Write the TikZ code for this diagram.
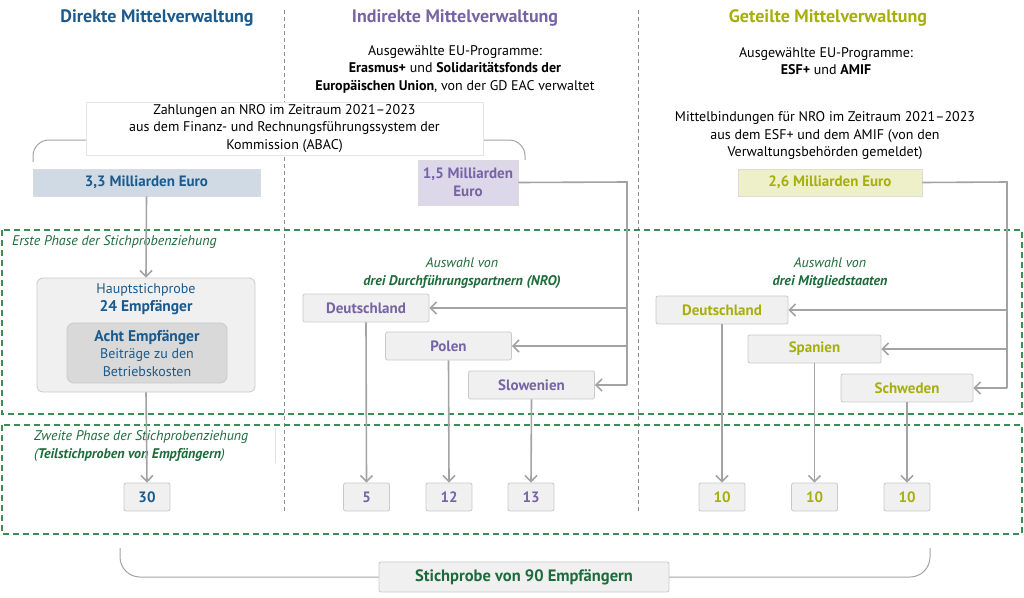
\documentclass[tikz,border=0pt]{standalone}
\usepackage{fontspec}
\setmainfont{PT Sans}
\usetikzlibrary{arrows.meta}
\definecolor{dblue}{HTML}{1B5A8C}
\definecolor{dpurple}{HTML}{7664A4}
\definecolor{dolive}{HTML}{A6AF0C}
\definecolor{dgreen}{HTML}{1D6B3A}
\definecolor{gdash}{HTML}{3C8C55}
\definecolor{lgray}{HTML}{A3A3A3}
\definecolor{bgray}{HTML}{C9C9C9}
\definecolor{bfill}{HTML}{F0F0F0}
\definecolor{ifill}{HTML}{D9D9D9}
\definecolor{fblue}{HTML}{CFDAE5}
\definecolor{fpurple}{HTML}{DCD7E9}
\definecolor{folive}{HTML}{EEF0C9}
\newcommand{\bigbf}[1]{{\fontsize{15.5}{17.5}\selectfont\bfseries #1}}
\begin{document}
\begin{tikzpicture}[x=1pt,y=-1pt,
  every node/.style={font=\fontsize{14}{17.5}\selectfont, inner sep=0pt},
  title/.style={font=\fontsize{18}{20}\selectfont\bfseries},
  bf/.style={font=\fontsize{15}{17.5}\selectfont\bfseries},
  box/.style={draw=bgray, fill=bfill, rounded corners=2pt, line width=0.8pt},
  numbox/.style={box, bf, minimum width=46, minimum height=28},
  ctrybox/.style={box, bf, minimum width=126, minimum height=28},
  amount/.style={bf, draw=black!14, line width=0.6pt},
  conn/.style={draw=lgray, line width=1.6pt},
  arr/.style={conn, -{Straight Barb[length=6pt,width=12pt,line width=1.6pt]}},
  brace/.style={draw=lgray, line width=1pt, rounded corners=16pt},
  vdash/.style={draw=black!45, line width=1pt, dash pattern=on 4pt off 3pt},
  gbox/.style={draw=gdash, line width=1.2pt, dash pattern=on 6pt off 4pt},
  phase/.style={text=dgreen, font=\fontsize{14}{17.5}\selectfont\itshape}
]
\useasboundingbox (0,0) rectangle (1024,597);

% column separators and phase frames
\draw[vdash] (284,10) -- (284,513);
\draw[vdash] (638,10) -- (638,513);
\draw[gbox] (2,230) rectangle (1022,414);
\draw[gbox] (2,425) rectangle (1022,534);

% titles
\node[title, text=dblue] (t1) at (157,18) {Direkte Mittelverwaltung};
\node[title, text=dpurple] (t2) at (455,18) {Indirekte Mittelverwaltung};
\node[title, text=dolive] (t3) at (828,18) {Geteilte Mittelverwaltung};

\node[align=center] (p2) at (455,69) {Ausgewählte EU-Programme:\\\textbf{Erasmus+} und \textbf{Solidaritätsfonds der}\\\textbf{Europäischen Union}, von der GD EAC verwaltet};
\node[align=center] (p3) at (826,61) {Ausgewählte EU-Programme:\\\textbf{ESF+} und \textbf{AMIF}};
\node[align=center] (m3) at (825,136) {Mittelbindungen für NRO im Zeitraum 2021–2023\\aus dem ESF+ und dem AMIF (von den\\Verwaltungsbehörden gemeldet)};

% ABAC box with brace
\coordinate (bl) at (33,162);
\coordinate (br) at (525,160);
\draw[brace] (86,140) -- (33,140) -- (bl);
\draw[brace] (483,140) -- (525,140) -- (br);
\node[draw=black!10, fill=white, line width=0.6pt, minimum width=397, minimum height=53, align=center] (zb) at (284.5,128.5) {Zahlungen an NRO im Zeitraum 2021–2023\\aus dem Finanz- und Rechnungsführungssystem der\\Kommission (ABAC)};

% amounts
\node[amount, fill=fblue, text=dblue, minimum width=227, minimum height=27] (a1) at (146.5,182.5) {3,3 Milliarden Euro};
\node[amount, fill=fpurple, text=dpurple, minimum width=100, minimum height=45, align=center] (a2) at (468,182.5) {1,5 Milliarden\\Euro};
\node[amount, fill=folive, text=dolive, minimum width=184, minimum height=27] (a3) at (830,182.5) {2,6 Milliarden Euro};

% phase labels
\node[phase, anchor=west] (ph1) at (12,242) {Erste Phase der Stichprobenziehung};
\draw[draw=black!12, line width=0.6pt] (275,428) -- (275,463);
\node[phase, anchor=west, align=left] (ph2) at (34,446) {Zweite Phase der Stichprobenziehung\\(\textbf{Teilstichproben von Empfängern})};

% direct column
\node[box, fill=bfill, minimum width=218, minimum height=114, rounded corners=6pt] (hs) at (146,335) {};
\node[text=dblue, align=center] (hst) at (146,299) {Hauptstichprobe\\\bigbf{24 Empfänger}};
\node[draw=bgray, fill=ifill, line width=0.8pt, rounded corners=7pt, minimum width=160, minimum height=60, text=dblue, align=center] (acht) at (147,353) {\bigbf{Acht Empfänger}\\Beiträge zu den\\Betriebskosten};
\node[numbox, text=dblue] (n30) at (147,497) {30};
\draw[arr] (a1.south) -- (hs.north);
\draw[arr] (hs.south) -- (n30.north);

% indirect column
\node[phase, align=center] (aw2) at (462,273) {Auswahl von\\\textbf{drei Durchführungspartnern (NRO)}};
\node[ctrybox, text=dpurple] (de1) at (366,308) {Deutschland};
\node[ctrybox, text=dpurple] (pl) at (448.5,346) {Polen};
\node[ctrybox, text=dpurple] (si) at (531.5,385) {Slowenien};
\coordinate (v2) at (627,182);
\draw[conn] (a2.east) -- (v2) -- (v2 |- si.east);
\draw[arr] (v2 |- de1.east) -- (de1.east);
\draw[arr] (v2 |- pl.east) -- (pl.east);
\draw[arr] (v2 |- si.east) -- (si.east);
\node[numbox, text=dpurple] (n5) at (366.5,497) {5};
\node[numbox, text=dpurple] (n12) at (449,497) {12};
\node[numbox, text=dpurple] (n13) at (531,497) {13};
\draw[arr] (de1.south) -- (n5.north);
\draw[arr] (pl.south) -- (n12.north);
\draw[arr] (si.south) -- (n13.north);

% shared column
\node[phase, align=center] (aw3) at (830,273) {Auswahl von\\\textbf{drei Mitgliedstaaten}};
\node[ctrybox, text=dolive, minimum width=132] (de2) at (722,310) {Deutschland};
\node[ctrybox, text=dolive, minimum width=133] (es) at (814.5,349) {Spanien};
\node[ctrybox, text=dolive, minimum width=132] (se) at (907,388) {Schweden};
\coordinate (v3) at (1007,182);
\draw[conn] (a3.east) -- (v3) -- (v3 |- se.east);
\draw[arr] (v3 |- de2.east) -- (de2.east);
\draw[arr] (v3 |- es.east) -- (es.east);
\draw[arr] (v3 |- se.east) -- (se.east);
\node[numbox, text=dolive] (n10a) at (722,497) {10};
\node[numbox, text=dolive] (n10b) at (814.5,497) {10};
\node[numbox, text=dolive] (n10c) at (907,497) {10};
\draw[arr] (de2.south) -- (n10a.north);
\draw[arr] (es.south) -- (n10b.north);
\draw[arr] (se.south) -- (n10c.north);

% total
\node[box, text=dgreen, font=\fontsize{16.5}{18}\selectfont\bfseries, minimum width=290, minimum height=30] (tot) at (524,577) {Stichprobe von 90 Empfängern};
\coordinate (cl) at (120,548);
\coordinate (cr) at (930,548);
\draw[brace, rounded corners=20pt] (cl) -- (120,577) -- (tot.west);
\draw[brace, rounded corners=20pt] (tot.east) -- (930,577) -- (cr);
\end{tikzpicture}
\end{document}
